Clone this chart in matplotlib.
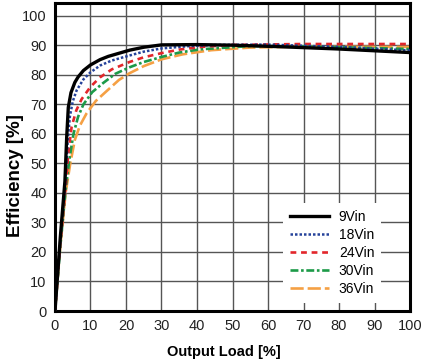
import matplotlib
matplotlib.use('Agg')
import matplotlib.pyplot as plt

# font: Arial-like sans
plt.rcParams['font.family'] = ['Liberation Sans', 'DejaVu Sans']

# efficiency curves
load_9 = [0, 1.5, 2.8, 3.3, 3.75, 4.5, 5.6, 6.5, 8, 10, 12.7, 15, 21, 25, 30, 40, 50, 63, 80, 100]
eff_9 = [0, 25, 44, 59, 69, 74, 77.5, 79.3, 81.5, 83.4, 85.2, 86.3, 88.4, 89.4, 90.2, 90.3, 90.1, 89.6, 88.8, 87.6]

load_18 = [0, 1.5, 2.8, 3.6, 4.2, 5, 6.1, 8, 9.9, 12.7, 16, 21, 25, 30, 38, 46, 60, 80, 100]
eff_18 = [0, 24, 42, 58, 66, 71, 74.8, 78.5, 80.8, 83.2, 84.9, 86.6, 87.9, 89, 89.8, 90.2, 90.3, 89.5, 88.3]

load_24 = [0, 1.5, 3, 3.8, 4.7, 6, 7.5, 10, 12.7, 16, 21, 25, 30, 35, 41, 50, 70, 100]
eff_24 = [0, 23, 42, 54, 62.5, 68, 71.8, 76, 79.2, 81.9, 84.4, 86, 87.4, 88.6, 89.5, 90.2, 90.5, 90.5]

load_30 = [0, 1.5, 3, 4, 5.2, 6.5, 8, 10.5, 13.6, 17, 21, 25, 30, 35, 41, 55, 70, 100]
eff_30 = [0, 22, 41, 51, 60, 65.8, 70, 74.2, 77.3, 80.4, 82.6, 84.4, 86.1, 87.6, 88.7, 89.8, 89.7, 88.8]

load_36 = [0, 1.5, 3, 4.3, 5.6, 7, 8.9, 11.5, 14.6, 18, 21, 25, 30, 36, 44, 55, 70, 100]
eff_36 = [0, 22, 40, 50, 58, 62.8, 67, 71.2, 74.6, 78.3, 80.6, 83, 85.3, 87, 88.4, 89.3, 89.6, 89.5]

x_ticks = list(range(0, 101, 10))
y_ticks = list(range(0, 101, 10))

fig = plt.figure(figsize=(4.22, 3.64), dpi=100)
ax = fig.add_axes([0.1303, 0.1456, 0.8413, 0.8462])

ax.plot(load_9, eff_9, color='black', lw=2.4, ls='-', label='9Vin', zorder=6)
ax.plot(load_18, eff_18, color='#25429a', lw=1.8, ls=(0, (1, 0.8)), label='18Vin', zorder=5)
ax.plot(load_24, eff_24, color='#e2262b', lw=1.9, ls=(0, (2.2, 1.8)), label='24Vin', zorder=4)
ax.plot(load_30, eff_30, color='#1c9a48', lw=1.9, ls=(0, (3, 1, 1, 1)), label='30Vin', zorder=3)
ax.plot(load_36, eff_36, color='#f5a044', lw=1.9, ls=(0, (5, 1.5)), label='36Vin', zorder=2)

ax.set_xlim(0, 100)
ax.set_ylim(0, 104.4)
ax.set_xticks(x_ticks)
ax.set_yticks(y_ticks)
ax.tick_params(length=0, labelsize=10.5, pad=6, colors='#222222')
ax.grid(True, color='#555555', lw=1.0)
ax.set_axisbelow(True)
for s in ax.spines.values():
    s.set_linewidth(2.2)
    s.set_color('black')

ax.set_xlabel('Output Load [%]', fontsize=10.5, fontweight='bold')
ax.set_ylabel('Efficiency [%]', fontsize=13.5, fontweight='bold')
ax.xaxis.set_label_coords(0.477, -0.11)
ax.yaxis.set_label_coords(-0.087, 0.44)

leg = ax.legend(loc='upper left', bbox_to_anchor=(0.643, 0.352), fontsize=10,
                frameon=True, fancybox=False, edgecolor='white', framealpha=1,
                handlelength=2.8, handletextpad=0.7, labelspacing=0.3,
                borderpad=0.5, borderaxespad=0)
leg.get_frame().set_linewidth(0)

fig.savefig('out.png', dpi=100)
